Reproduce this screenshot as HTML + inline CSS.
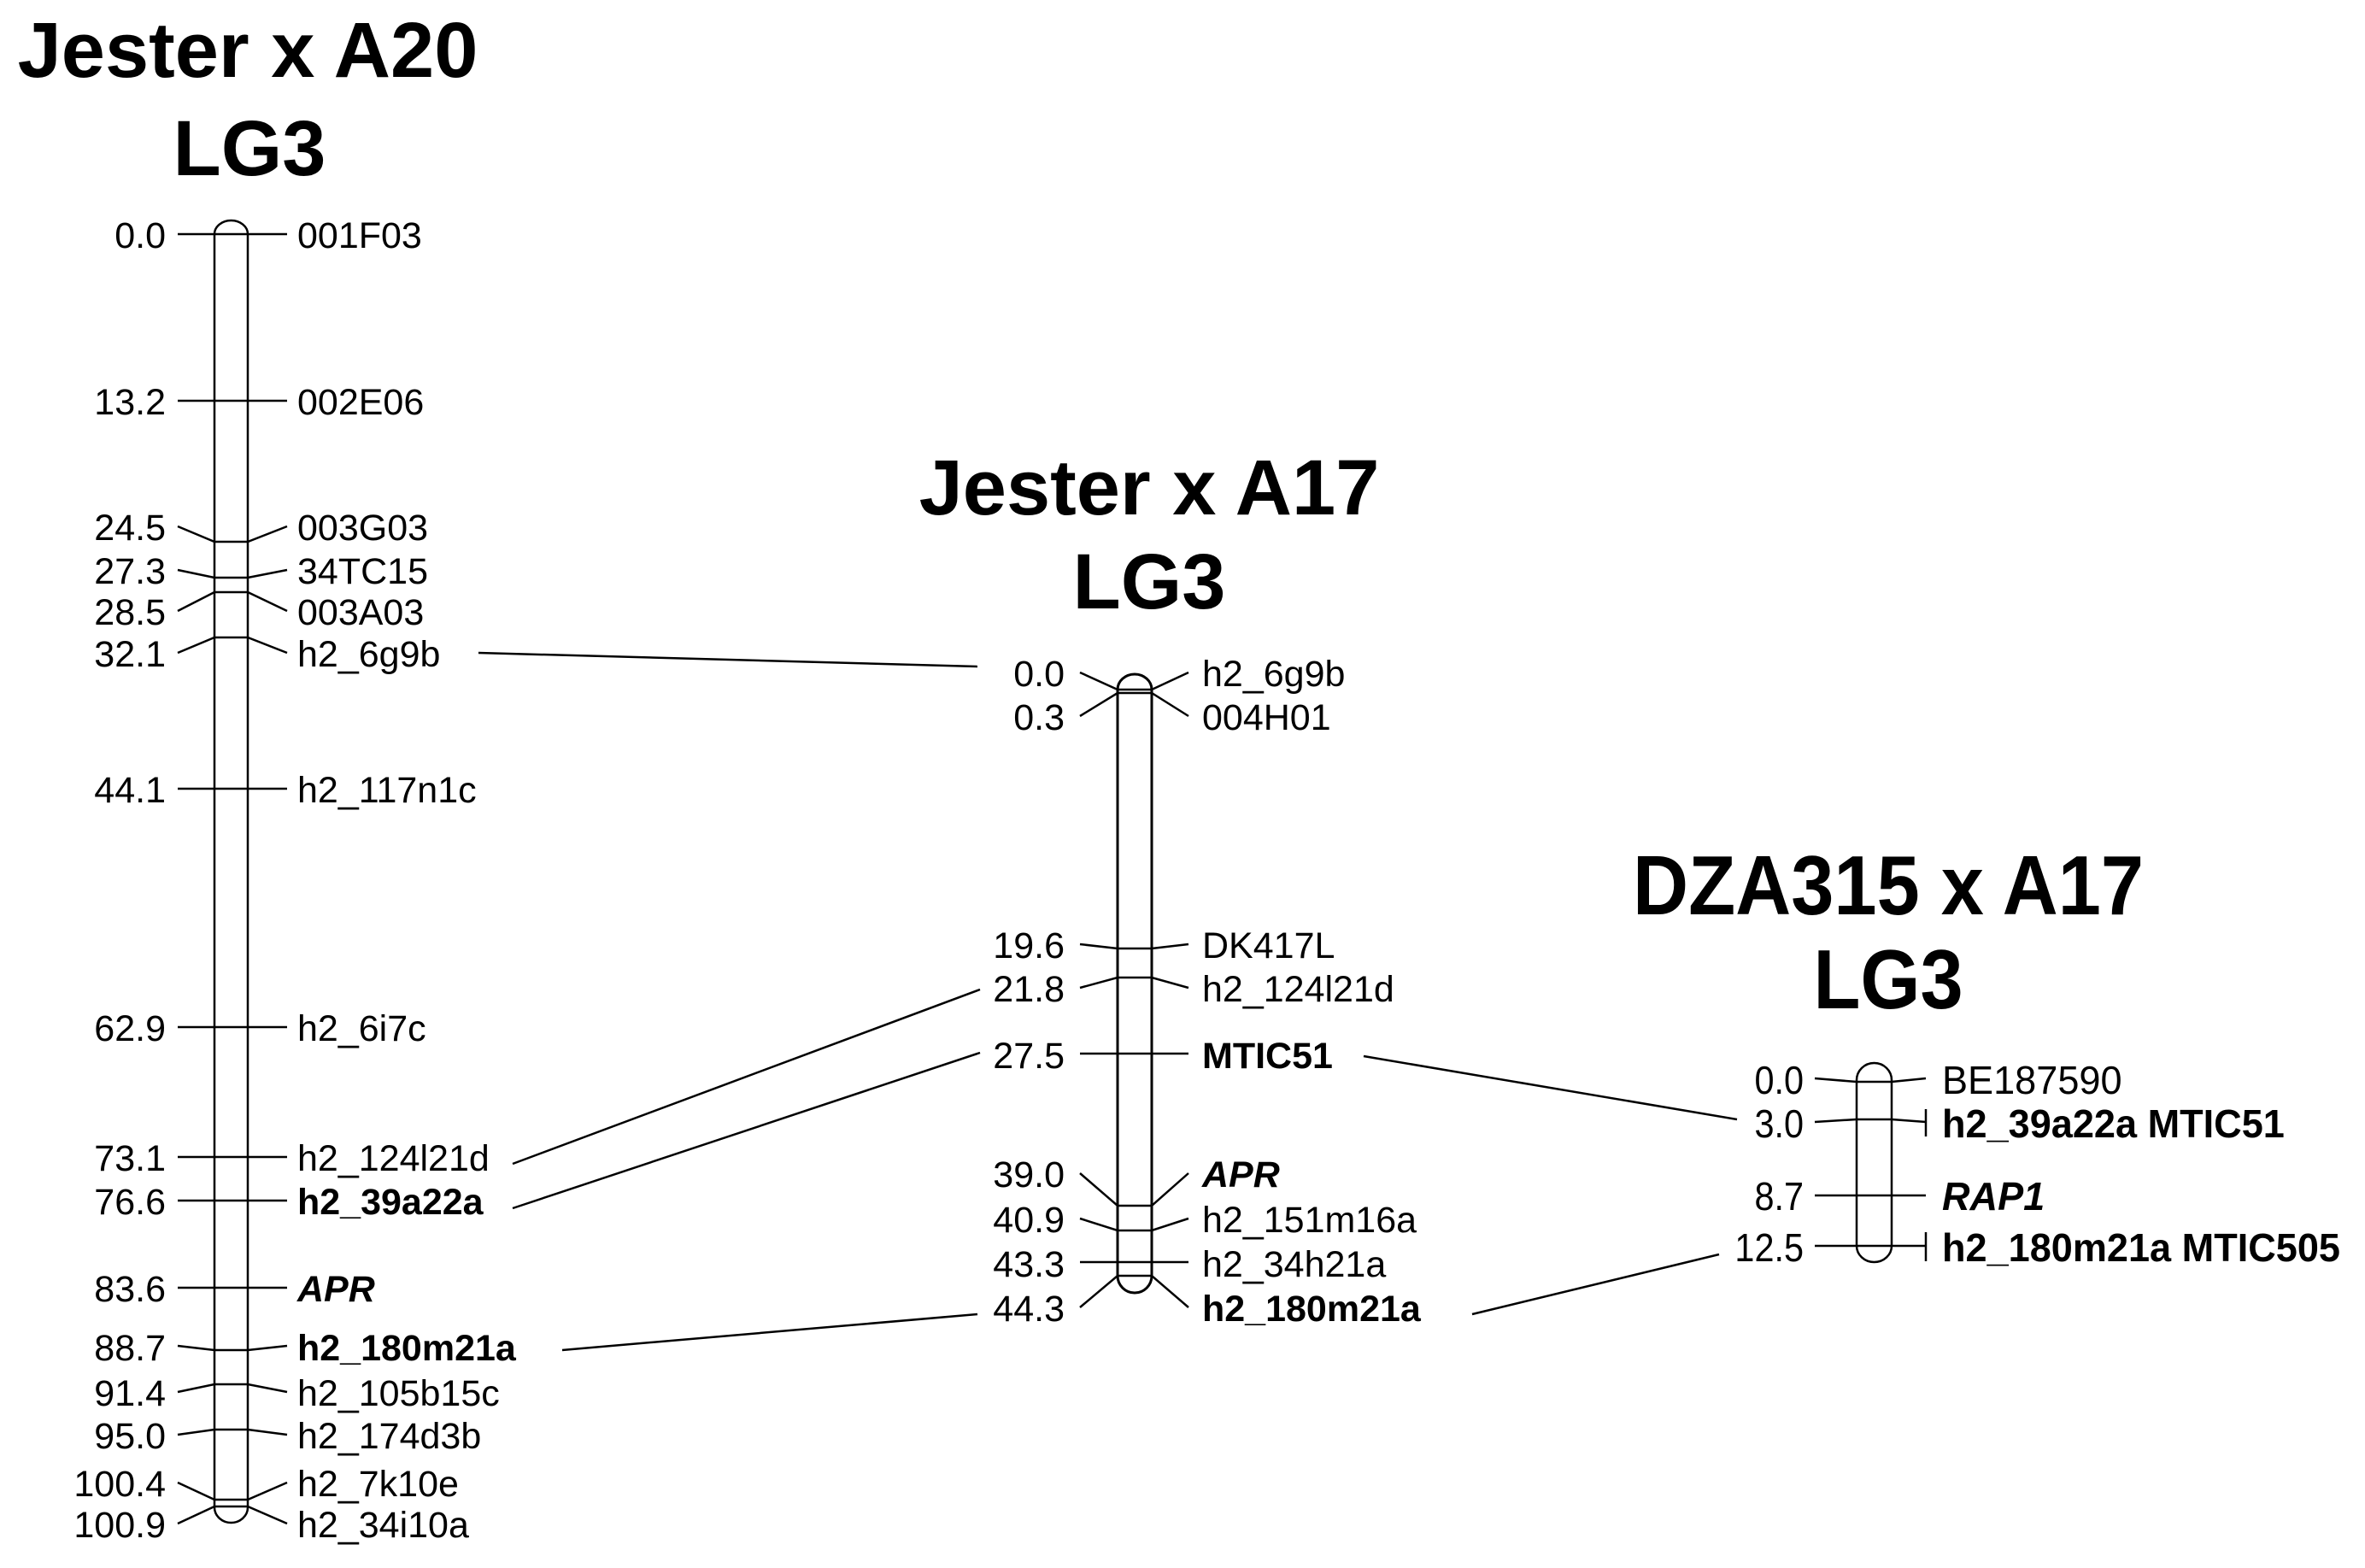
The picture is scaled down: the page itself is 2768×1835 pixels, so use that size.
<!DOCTYPE html>
<html><head><meta charset="utf-8"><style>
html,body{margin:0;padding:0;background:#fff;}
svg{display:block;}
text{font-family:"Liberation Sans",Arial,sans-serif;fill:#000;}
.n{font-size:43px;text-anchor:end;}
.m{font-size:43px;}
.b{font-weight:bold;}
.i{font-style:italic;font-weight:bold;}
.t{font-size:92px;font-weight:bold;text-anchor:middle;}
line,polyline,path,rect{stroke:#000;stroke-width:2.5;fill:none;}
</style></head><body>
<svg width="2768" height="1835" viewBox="0 0 2768 1835" xmlns="http://www.w3.org/2000/svg">
<text class="t" x="290" y="90">Jester x A20</text>
<text class="t" x="292" y="205">LG3</text>
<text class="t" x="1345" y="602">Jester x A17</text>
<text class="t" x="1345" y="712">LG3</text>
<g transform="translate(2210,0) scale(0.92,1)">
<text class="t" x="0" y="1070" style="font-size:98px">DZA315 x A17</text>
<text class="t" x="0" y="1180" style="font-size:98px">LG3</text>
</g>

<path d="M251,1764 L251,274 A19.5,16 0 0 1 290,274 L290,1764 A19.5,18 0 0 1 251,1764 Z"/>
<g>
<polyline points="208,274 336,274"/>
<polyline points="208,469 336,469"/>
<polyline points="208,616 251,634 290,634 336,616"/>
<polyline points="208,667 251,676 290,676 336,667"/>
<polyline points="208,715 251,693 290,693 336,715"/>
<polyline points="208,764 251,746 290,746 336,764"/>
<polyline points="208,923 336,923"/>
<polyline points="208,1202 336,1202"/>
<polyline points="208,1354 336,1354"/>
<polyline points="208,1405 336,1405"/>
<polyline points="208,1507 336,1507"/>
<polyline points="208,1575 251,1580 290,1580 336,1575"/>
<polyline points="208,1629 251,1620 290,1620 336,1629"/>
<polyline points="208,1679 251,1673 290,1673 336,1679"/>
<polyline points="208,1735 251,1755 290,1755 336,1735"/>
<polyline points="208,1783 251,1763 290,1763 336,1783"/>
</g>
<g>
<text class="n" x="194" y="290">0.0</text><text class="m" x="348" y="290">001F03</text>
<text class="n" x="194" y="485">13.2</text><text class="m" x="348" y="485">002E06</text>
<text class="n" x="194" y="632">24.5</text><text class="m" x="348" y="632">003G03</text>
<text class="n" x="194" y="683">27.3</text><text class="m" x="348" y="683">34TC15</text>
<text class="n" x="194" y="731">28.5</text><text class="m" x="348" y="731">003A03</text>
<text class="n" x="194" y="780">32.1</text><text class="m" x="348" y="780">h2_6g9b</text>
<text class="n" x="194" y="939">44.1</text><text class="m" x="348" y="939">h2_117n1c</text>
<text class="n" x="194" y="1218">62.9</text><text class="m" x="348" y="1218">h2_6i7c</text>
<text class="n" x="194" y="1370">73.1</text><text class="m" x="348" y="1370">h2_124l21d</text>
<text class="n" x="194" y="1421">76.6</text><text class="m b" x="348" y="1421">h2_39a22a</text>
<text class="n" x="194" y="1523">83.6</text><text class="m i" x="348" y="1523">APR</text>
<text class="n" x="194" y="1592">88.7</text><text class="m b" x="348" y="1592">h2_180m21a</text>
<text class="n" x="194" y="1645">91.4</text><text class="m" x="348" y="1645">h2_105b15c</text>
<text class="n" x="194" y="1695">95.0</text><text class="m" x="348" y="1695">h2_174d3b</text>
<text class="n" x="194" y="1751">100.4</text><text class="m" x="348" y="1751">h2_7k10e</text>
<text class="n" x="194" y="1799">100.9</text><text class="m" x="348" y="1799">h2_34i10a</text>
</g>

<path d="M1308,1493 L1308,807 A20,18 0 0 1 1348,807 L1348,1493 A20,20 0 0 1 1308,1493 Z" style="stroke-width:3"/>
<g>
<polyline points="1264,787 1308,807 1348,807 1391,787"/>
<polyline points="1264,838 1308,811 1348,811 1391,838"/>
<polyline points="1264,1105 1308,1110 1348,1110 1391,1105"/>
<polyline points="1264,1156 1308,1144 1348,1144 1391,1156"/>
<polyline points="1264,1233 1391,1233"/>
<polyline points="1264,1373 1308,1411 1348,1411 1391,1373"/>
<polyline points="1264,1426 1308,1440 1348,1440 1391,1426"/>
<polyline points="1264,1477 1391,1477"/>
<polyline points="1264,1530 1308,1493 1348,1493 1391,1530"/>
</g>
<g>
<text class="n" x="1246" y="803">0.0</text><text class="m" x="1407" y="803">h2_6g9b</text>
<text class="n" x="1246" y="854">0.3</text><text class="m" x="1407" y="854">004H01</text>
<text class="n" x="1246" y="1121">19.6</text><text class="m" x="1407" y="1121">DK417L</text>
<text class="n" x="1246" y="1172">21.8</text><text class="m" x="1407" y="1172">h2_124l21d</text>
<text class="n" x="1246" y="1250">27.5</text><text class="m b" x="1407" y="1250">MTIC51</text>
<text class="n" x="1246" y="1389">39.0</text><text class="m i" x="1407" y="1389">APR</text>
<text class="n" x="1246" y="1442">40.9</text><text class="m" x="1407" y="1442">h2_151m16a</text>
<text class="n" x="1246" y="1494">43.3</text><text class="m" x="1407" y="1494">h2_34h21a</text>
<text class="n" x="1246" y="1546">44.3</text><text class="m b" x="1407" y="1546">h2_180m21a</text>
</g>

<path d="M2173,1458 L2173,1264 A20.5,20 0 0 1 2214,1264 L2214,1458 A20.5,19 0 0 1 2173,1458 Z"/>
<g>
<polyline points="2124,1262 2173,1266 2214,1266 2254,1262"/>
<polyline points="2124,1313 2173,1310 2214,1310 2254,1313"/>
<line x1="2254" y1="1298" x2="2254" y2="1330"/>
<polyline points="2124,1399 2254,1399"/>
<polyline points="2124,1458 2254,1458"/>
<line x1="2254" y1="1442" x2="2254" y2="1476"/>
</g>
<g transform="translate(2111,0) scale(0.9,1)">
<text class="n" x="0" y="1280" style="font-size:46px">0.0</text>
<text class="n" x="0" y="1331" style="font-size:46px">3.0</text>
<text class="n" x="0" y="1416" style="font-size:46px">8.7</text>
<text class="n" x="0" y="1476" style="font-size:46px">12.5</text>
</g>
<g transform="translate(2273,0) scale(0.98,1)">
<text class="m" x="0" y="1280" style="font-size:46px">BE187590</text>
<text class="m b" x="0" y="1331" style="font-size:46px">h2_39a22a MTIC51</text>
<text class="m i" x="0" y="1416" style="font-size:46px">RAP1</text>
<text class="m b" x="0" y="1476" style="font-size:46px">h2_180m21a MTIC505</text>
</g>

<line x1="560" y1="764" x2="1144" y2="780"/>
<line x1="600" y1="1362" x2="1147" y2="1158"/>
<line x1="600" y1="1414" x2="1147" y2="1232"/>
<line x1="658" y1="1580" x2="1144" y2="1538"/>
<line x1="1596" y1="1236" x2="2033" y2="1310"/>
<line x1="1723" y1="1538" x2="2012" y2="1468"/>
</svg>
</body></html>
